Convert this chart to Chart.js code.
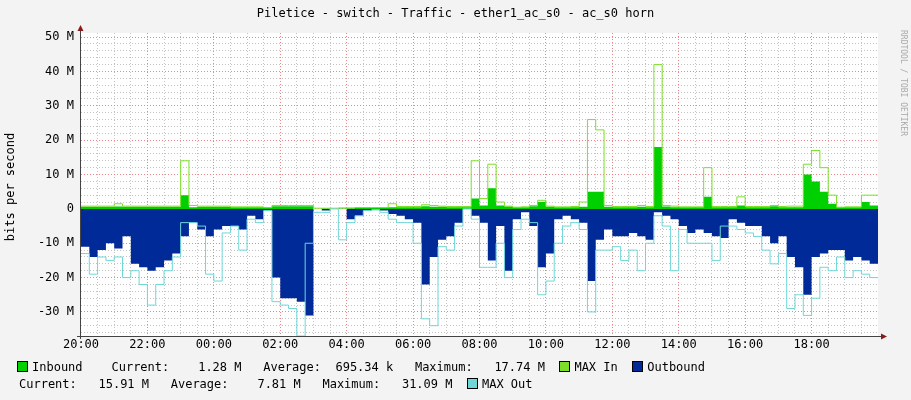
<!DOCTYPE html>
<html><head><meta charset="utf-8">
<script src="https://cdn.jsdelivr.net/npm/chart.js@4"></script>
<style>
body{margin:0;background:#F3F3F3;width:911px;height:400px;overflow:hidden;font-family:"DejaVu Sans Mono",monospace;}
#wrap{position:absolute;left:0;top:0;width:911px;height:400px;}
.t{position:absolute;font-size:12px;color:#000;white-space:pre;}
.sw{display:inline-block;width:9px;height:9px;border:1px solid #000;vertical-align:-1px;margin-right:4px;}
</style></head><body>
<div id="wrap"><canvas id="c" width="911" height="400"></canvas></div>
<div class="t" style="left:0;width:911px;text-align:center;top:6px;">Piletice - switch - Traffic - ether1_ac_s0 - ac_s0 horn</div>
<div class="t" style="left:-50px;top:180px;width:120px;text-align:center;transform:rotate(-90deg);">bits per second</div>
<div class="t" style="font-size:8px;color:#aaa;transform:rotate(90deg);transform-origin:0 0;left:908px;top:30px;">RRDTOOL / TOBI OETIKER</div>
<div class="t" style="left:17px;top:360px;"><span class="sw" style="background:#00CF00"></span>Inbound    Current:    1.28 M   Average:  695.34 k   Maximum:   17.74 M  <span class="sw" style="background:#7CE02A"></span>MAX In  <span class="sw" style="background:#002A97"></span>Outbound</div>
<div class="t" style="left:19px;top:377px;">Current:   15.91 M   Average:    7.81 M   Maximum:   31.09 M  <span class="sw" style="background:#6ED8D8"></span>MAX Out</div>
<script>
const hours = Array.from({length:97},(_, i)=>i*0.25);
const xTickLabels = ["20:00","22:00","00:00","02:00","04:00","06:00","08:00","10:00","12:00","14:00","16:00","18:00"];
const inbound = [0.6,0.6,0.6,0.6,0.6,0.7,0.6,0.6,0.6,0.6,0.6,0.6,0.6,4,0.5,0.6,0.6,0.6,0.6,0.5,0.5,0.5,0.5,0.3,0.8,0.8,0.8,0.8,0.8,0,0.1,0,0.1,0.2,0.3,0.3,0.3,0.3,0.5,0.5,0.5,0.5,0.8,0.6,0.6,
0.5,0.5,0.5,3,1,6,1,0.7,0.5,0.5,0.8,2,0.6,0.5,0.5,0.5,0.6,5,5,0.6,0.5,0.5,0.5,0.6,0.5,18,0.7,0.5,0.5,0.5,0.5,3.5,0.5,0.5,0.5,1,0.5,0.5,0.5,0.8,0.5,0.5,0.5,10,8,5,1.5,0.5,0.5,0.5,2,1];
const maxIn = [0.8,0.8,0.8,0.8,0.8,1.5,0.8,0.8,0.8,0.8,0.8,0.8,0.8,14,1,0.8,0.8,0.8,0.8,0.6,0.6,0.6,0.6,0.4,1,1,1,1,1,0.2,0.2,0.2,0.3,0.3,0.4,0.4,0.4,0.4,1.5,0.7,0.7,0.7,1.2,1,0.8,
0.7,0.7,0.7,14,3,13,2,0.8,0.5,0.6,1,2.5,0.8,0.6,0.6,0.7,2,26,23,1,0.7,0.7,0.7,1,0.7,42,1,0.8,0.6,0.6,0.6,12,0.7,0.7,0.7,3.5,0.7,0.7,0.7,1,0.7,0.8,0.8,13,17,12,4,0.5,0.6,0.6,4,4];
const outbound = [9,11,14,12,10,11.5,8,16,17,18,17,15,13,8,4,6,8,6,5,5,6,2,3,0.5,20,26,26,27,31,0,0.5,0,0,3,2,0.5,0.2,0.5,1.5,2,3,4,22,14,9,
8,4,0,2,4,15,5,18,3,1,5,17,13,3,2,3,4,21,9,6,8,8,7,8,9,1,2,3,5,7,6,7,8,8.5,3,4,5,5,8,10,8,14,17,25,14,13,12,12,15,14,15,16];
const maxOut = [13,13,19,14,15,14,20,18,22,28,22,18,14,4,4,5,19,21,7,5,12,3,4,0.5,27,28,29,37,10,1,1,0,9,4,2,0.5,0.3,1,3,4,4,10,32,34,11,
12,5,0,3,17,17,10,20,6,3,4,25,21,10,5,4,6,30,12,12,11,15,12,18,10,2,5,18,6,10,10,10,15,5,5,6,7,8,12,16,13,29,25,31,26,17,18,14,20,18,19,20];
const M = 1e6;
const pts = a => a.map((v,i)=>({x:hours[i], y:v*M}));
const neg = a => a.map((v,i)=>({x:hours[i], y:-v*M}));

const arrows = {id:'arrows', afterDraw(ch){
  const c=ch.ctx, a=ch.chartArea;
  c.save(); c.strokeStyle='#444'; c.lineWidth=1;
  c.beginPath(); c.moveTo(a.left-0.5,a.bottom+3); c.lineTo(a.left-0.5,a.top-6);
  c.moveTo(a.left-4,a.bottom+0.5); c.lineTo(a.right+5,a.bottom+0.5); c.stroke();
  c.fillStyle='#8B1A1A';
  c.beginPath(); c.moveTo(a.left-3.5,a.top-2); c.lineTo(a.left+2.5,a.top-2); c.lineTo(a.left-0.5,a.top-8); c.fill();
  c.beginPath(); c.moveTo(a.right+3,a.bottom-2.5); c.lineTo(a.right+3,a.bottom+3.5); c.lineTo(a.right+9,a.bottom+0.5); c.fill();
  c.restore();
}};
const bgPlug = {id:'bg', beforeDraw(ch){const c=ch.ctx,a=ch.chartArea;c.save();c.fillStyle='#fff';c.fillRect(a.left,a.top,a.right-a.left,a.bottom-a.top);c.restore();}};

new Chart(document.getElementById('c'),{
  type:'line',
  data:{datasets:[
    {label:'Outbound',data:neg(outbound),stepped:'after',fill:'origin',backgroundColor:'#002A97',borderColor:'#002A97',borderWidth:0,pointRadius:0,order:4},
    {label:'Inbound',data:pts(inbound),stepped:'after',fill:'origin',backgroundColor:'#00CF00',borderColor:'#00CF00',borderWidth:0,pointRadius:0,order:3},
    {label:'MAX In',data:pts(maxIn),stepped:'after',fill:false,borderColor:'#7CE02A',borderWidth:1,pointRadius:0,order:2},
    {label:'MAX Out',data:neg(maxOut),stepped:'after',fill:false,borderColor:'#6ED8D8',borderWidth:1,pointRadius:0,order:1}
  ]},
  options:{responsive:false,animation:false,events:[],
    layout:{padding:{left:0,top:33,right:33,bottom:0}},
    plugins:{legend:{display:false},tooltip:{enabled:false}},
    scales:{
      x:{type:'linear',min:0,max:24,
        afterFit(s){s.height=64;},
        afterBuildTicks(s){s.ticks=[];for(let h=0;h<=24.001;h+=0.5)s.ticks.push({value:h});},
        ticks:{autoSkip:false,maxRotation:0,padding:2,color:'#000',font:{family:'DejaVu Sans Mono',size:12},
          callback(v){const k=Math.round(v*2);return (k%4===0 && k/4<xTickLabels.length)?xTickLabels[k/4]:'';}},
        border:{display:false,dash:[1,2]},
        grid:{drawTicks:false,lineWidth:1,
          color(c){const v=c.tick.value;if(v<=0.01||v>=23.99)return 'rgba(0,0,0,0)';return Math.abs(v/2-Math.round(v/2))<0.01?'rgba(240,120,120,0.9)':'rgba(180,180,180,0.8)';}}
      },
      y:{min:-37*M,max:51.2*M,
        afterFit(s){s.width=81;},
        afterBuildTicks(s){s.ticks=[];for(let v=-36;v<=50;v+=2)s.ticks.push({value:v*M});},
        ticks:{autoSkip:false,padding:7,color:'#000',font:{family:'DejaVu Sans Mono',size:12},
          callback(v){const m=Math.round(v/M);if(m%10!==0)return '';return m===0?'0':m+' M';}},
        border:{display:false,dash:[1,2]},
        grid:{drawTicks:false,lineWidth:1,
          color(c){const m=Math.round(c.tick.value/M);return m%10===0?'rgba(240,120,120,0.9)':'rgba(180,180,180,0.8)';}}
      }
    }
  },
  plugins:[bgPlug,arrows]
});
</script></body></html>
